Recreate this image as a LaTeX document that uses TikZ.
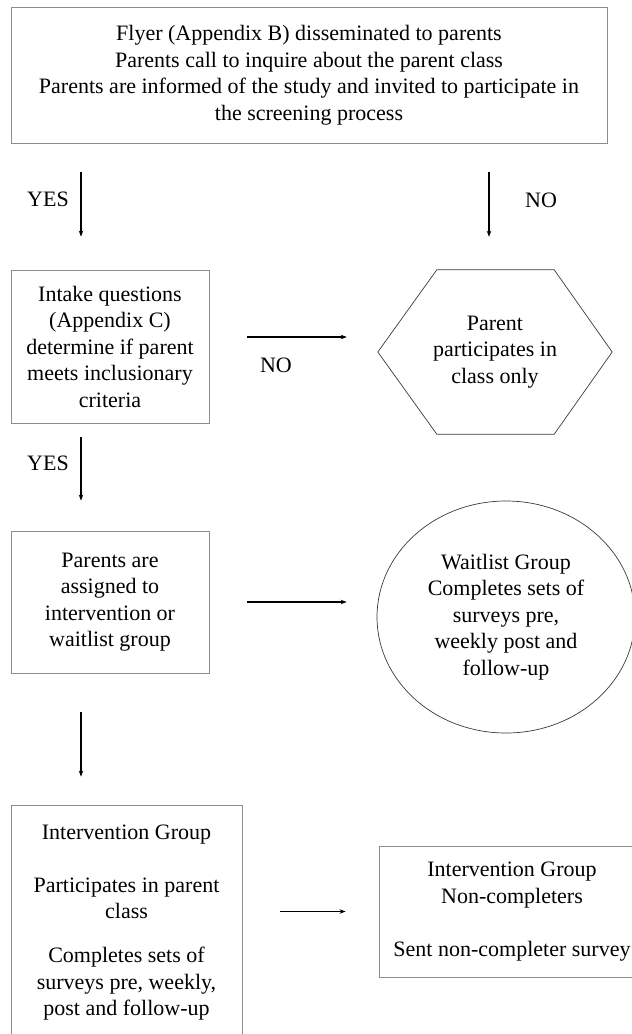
\documentclass[tikz,border=0pt]{standalone}
\usepackage{fontspec}
\setmainfont{Liberation Serif}
\usetikzlibrary{positioning, arrows.meta, calc, shapes.geometric}
\definecolor{frame}{HTML}{8C8C8C}
\definecolor{ink}{HTML}{3A3A3A}

\begin{document}
\begin{tikzpicture}[
  x=1pt, y=-1pt,
  font=\fontsize{22pt}{26.5pt}\selectfont,
  every node/.style={align=center},
  bx/.style={rectangle, draw=frame, line width=0.8pt, fill=white, inner sep=0pt},
  hexb/.style={inner sep=0pt, minimum width=234pt, minimum height=164pt},
  ovl/.style={ellipse, draw=ink, line width=0.7pt, inner sep=0pt,
              minimum width=258pt, minimum height=232pt},
  lbl/.style={inner sep=0pt},
  arr/.style={-{Stealth[length=6pt, width=4.5pt]}, line width=1.3pt}
]
\useasboundingbox (0,0) rectangle (632,1034);
% --- arrow columns ---
\coordinate (colL) at (81,0);
\coordinate (colR) at (489,0);

% --- left column ---
\node[bx, minimum width=596pt, minimum height=136pt] at (309,75) (flyer) {%
  Flyer (Appendix B) disseminated to parents\\
  Parents call to inquire about the parent class\\
  Parents are informed of the study and invited to participate in\\
  the screening process};
\node[bx, minimum width=198pt, minimum height=153pt] at (110,346.5) (intake) {%
  Intake questions\\(Appendix C)\\determine if parent\\meets inclusionary\\criteria};
\node[bx, minimum width=198pt, minimum height=142pt] at (110,602) (assign) {%
  Parents are\\assigned to\\intervention or\\waitlist group};
\node[bx, minimum width=231pt, minimum height=235pt] at (126.5,922.5) (inter) {%
  Intervention Group\\[26.5pt]
  Participates in parent\\class\\[17.5pt]
  Completes sets of\\surveys pre, weekly,\\post and follow-up};

% --- right column ---
\node[hexb] at (495,352) (hexa) {Parent\\participates in\\class only};
\draw[ink, line width=0.7pt] (hexa.west) -- ($(hexa.north west)+(59,0)$)
  -- ($(hexa.north east)+(-58,0)$) -- (hexa.east)
  -- ($(hexa.south east)+(-58,0)$) -- ($(hexa.south west)+(59,0)$) -- cycle;
\node[ovl] at (506,617) (wait) {%
  Waitlist Group\\Completes sets of\\surveys pre,\\weekly post and\\follow-up};
\node[bx, minimum width=266pt, minimum height=131pt] at (512,911.5) (noncomp) {%
  Intervention Group\\Non-completers\\[26.5pt]
  Sent non-completer survey};

% --- labels ---
\node[lbl] at (48,199)  (yesA) {YES};
\node[lbl] at (541,200) (noA)  {NO};
\node[lbl] at (276,365) (noB)  {NO};
\node[lbl] at (48,463)  (yesB) {YES};

% --- arrows ---
\coordinate (rowA) at ([yshift=9.5pt]intake.east);
\draw[arr, shorten <=29pt, shorten >=33pt] (flyer.south -| colL) -- (intake.north -| colL);
\draw[arr, shorten <=29pt, shorten >=33pt] (flyer.south -| colR) -- (hexa.north -| colR);
\draw[arr, shorten <=38pt, shorten >=31pt] (rowA) -- (rowA -| hexa.west);
\draw[arr, shorten <=14pt, shorten >=30pt] (intake.south -| colL) -- (assign.north -| colL);
\draw[arr, shorten <=38pt, shorten >=30pt] (assign.east) -- (assign.east -| wait.west);
\draw[arr, shorten <=39pt, shorten >=28pt] (assign.south -| colL) -- (inter.north -| colL);
\draw[arr, shorten <=38pt, shorten >=33pt] (inter.east |- noncomp.west) -- (noncomp.west);
\end{tikzpicture}
\end{document}
